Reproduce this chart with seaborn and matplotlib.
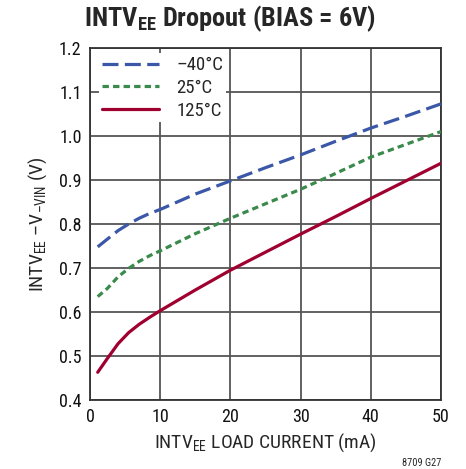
import matplotlib
matplotlib.use("Agg")
import matplotlib.pyplot as plt
import matplotlib.patheffects as pe
import seaborn as sns
import pandas as pd
from matplotlib import font_manager

# ---- data ----
load_current = [1.1, 2.5, 4, 5.5, 7, 8.5, 10, 15, 20, 25, 30, 35, 40, 45, 50]
v_m40 = [0.748, 0.766, 0.785, 0.800, 0.813, 0.824, 0.833, 0.868, 0.898, 0.928, 0.957, 0.988, 1.018, 1.045, 1.073]
v_25 = [0.635, 0.654, 0.680, 0.699, 0.715, 0.728, 0.739, 0.778, 0.813, 0.846, 0.879, 0.915, 0.952, 0.981, 1.010]
v_125 = [0.463, 0.495, 0.528, 0.553, 0.572, 0.588, 0.603, 0.650, 0.695, 0.736, 0.777, 0.817, 0.858, 0.898, 0.938]
series_labels = ["–40°C", "25°C", "125°C"]
x_ticks = [0, 10, 20, 30, 40, 50]
y_ticks = [0.4, 0.5, 0.6, 0.7, 0.8, 0.9, 1.0, 1.1, 1.2]

sns.set_style("white")
entries = font_manager.fontManager.ttflist
names = {f.name for f in entries}
pref = ["Liberation Sans Narrow", "Roboto Condensed", "Open Sans Condensed", "Arial Narrow"]
fam = next((p for p in pref if p in names), None)
if fam is None:
    narrow = sorted(n for n in names if ("Narrow" in n or "Condensed" in n))
    fam = narrow[0] if narrow else None
if fam:
    s_title, s_lab, s_tick, s_leg = 19, 14, 13, 13.5
else:
    fam = "Liberation Sans"
    s_title, s_lab, s_tick, s_leg = 15.5, 11.8, 12, 12


def _w(f):
    w = f.weight
    if isinstance(w, str):
        return 700 if "bold" in w.lower() else 400
    return int(w)


bold_ok = any(f.name == fam and _w(f) >= 600 for f in entries)

plt.rcParams["font.family"] = [fam, "DejaVu Sans"]
plt.rcParams["mathtext.fontset"] = "custom"
plt.rcParams["mathtext.rm"] = fam
plt.rcParams["mathtext.it"] = fam
plt.rcParams["mathtext.bf"] = fam + ":bold"

df = pd.DataFrame({
    "x": load_current * 3,
    "y": v_m40 + v_25 + v_125,
    "series": [series_labels[0]] * len(load_current)
    + [series_labels[1]] * len(load_current)
    + [series_labels[2]] * len(load_current),
})

fig = plt.figure(figsize=(4.66, 4.69), dpi=100)
ax = fig.add_axes([90 / 466, 69 / 469, 351 / 466, 352 / 469])

colors = {series_labels[0]: "#3b57a8", series_labels[1]: "#3a8a4c", series_labels[2]: "#a00030"}
dashes = {series_labels[0]: (5, 2), series_labels[1]: (2, 1.3), series_labels[2]: ""}
sns.lineplot(data=df, x="x", y="y", hue="series", style="series",
             palette=colors, dashes=dashes, linewidth=2.3, ax=ax, zorder=3)

ax.set_xlim(0, 50)
ax.set_ylim(0.4, 1.2)
ax.set_xticks(x_ticks)
ax.set_yticks(y_ticks)
ax.set_xticklabels([str(t) for t in x_ticks])
ax.set_yticklabels([f"{t:.1f}" for t in y_ticks])
ax.tick_params(axis="both", labelsize=s_tick, length=0, pad=6, colors="#111111")
ax.grid(True, color="#555555", linewidth=1.3)
for s in ax.spines.values():
    s.set_color("#333333")
    s.set_linewidth(1.3)

ax.set_xlabel(r"INTV$\mathregular{_{EE}}$ LOAD CURRENT (mA)", fontsize=s_lab, labelpad=4)
ax.set_ylabel(r"INTV$\mathregular{_{EE}}$ –V$\mathregular{_{–VIN}}$ (V)", fontsize=s_lab, labelpad=7)

leg = ax.legend(loc="upper left", bbox_to_anchor=(1 / 351, 1 + 3 / 352), fontsize=s_leg,
                frameon=True, handlelength=3.0, handletextpad=0.95, labelspacing=0.25,
                borderpad=0.15, borderaxespad=0.45, fancybox=False)
leg.get_frame().set_edgecolor("white")
leg.get_frame().set_facecolor("white")
leg.get_frame().set_alpha(1.0)
leg.get_frame().set_linewidth(0)
leg.set_zorder(5)
for h in leg.get_lines():
    h.set_linewidth(2.3)

t = fig.text(230 / 466, 1 - 19 / 469, r"INTV$\mathbf{_{EE}}$ Dropout (BIAS = 6V)",
             ha="center", va="center", fontsize=s_title, fontweight="bold")
if not bold_ok:
    t.set_path_effects([pe.withStroke(linewidth=1.3, foreground="black")])
fig.text(441 / 466, 1 - 463 / 469, "8709 G27", ha="right", va="center", fontsize=7.5)

fig.savefig("out.png", dpi=100, facecolor="white")
